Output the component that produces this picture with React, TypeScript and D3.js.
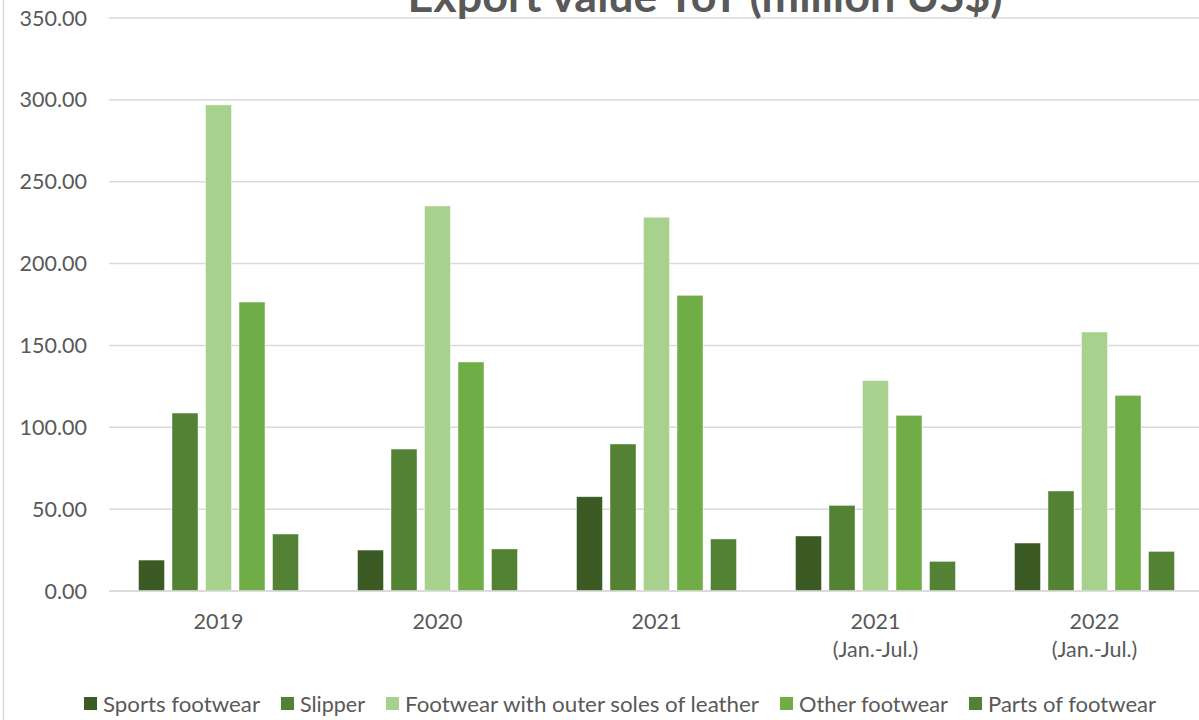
import React from "react";
import * as d3 from "d3";

const categories: string[][] = [
  ["2019"],
  ["2020"],
  ["2021"],
  ["2021", "(Jan.-Jul.)"],
  ["2022", "(Jan.-Jul.)"],
];
const seriesNames = [
  "Sports footwear",
  "Slipper",
  "Footwear with outer soles of leather",
  "Other footwear",
  "Parts of footwear",
];
const sportsFootwear = [18.9, 25.0, 57.6, 33.6, 29.3];
const slipper = [108.7, 86.7, 89.8, 52.3, 61.1];
const leatherSoles = [296.9, 235.2, 228.3, 128.5, 158.2];
const otherFootwear = [176.5, 139.9, 180.6, 107.3, 119.5];
const partsFootwear = [34.8, 25.7, 31.8, 18.1, 24.2];
const yTicks = [0, 50, 100, 150, 200, 250, 300, 350];
const title = "Export value YoY (million US$)";

const seriesValues = [sportsFootwear, slipper, leatherSoles, otherFootwear, partsFootwear];
const colors = ["#3B5A24", "#548235", "#A9D18E", "#70AD47", "#548235"];

const W = 1199;
const H = 720;
const FONT = "Lato, 'Open Sans', Arial, sans-serif";
const TEXT = "#595959";

// legend layout (x of marker, text target width)
const legendX = [84, 281, 386, 780, 969];
const legendW = [157, 65, 354, 149, 168];

export default function App() {
  const keys = categories.map((c) => c.join(" "));
  const x0 = d3.scaleBand<string>().domain(keys).range([109, 1204]).paddingInner(0).paddingOuter(0);
  const inner = d3
    .scaleBand<number>()
    .domain(d3.range(seriesNames.length))
    .range([0, 160])
    .paddingInner(0.224)
    .paddingOuter(0);
  const y = d3.scaleLinear().domain([0, 350]).range([591, 18]);
  const fmt = d3.format(".2f");
  const gx0 = (x0.bandwidth() - 160) / 2;

  return (
    <svg
      width={W}
      height={H}
      style={{ position: "absolute", left: 0, top: 0, background: "#fff" }}
      fontFamily={FONT}
    >
      <rect x={0} y={0} width={W} height={H} fill="#fff" />
      <line x1={3.5} x2={3.5} y1={0} y2={H} stroke="#d9d9d9" strokeWidth={1.5} />
      {/* gridlines */}
      {yTicks.map((t) => (
        <g key={t}>
          <line x1={109} x2={W} y1={y(t)} y2={y(t)} stroke="#d9d9d9" strokeWidth={1.5} />
          <text x={87} y={y(t)} dy="0.35em" textAnchor="end" fontSize={21.5} fill={TEXT}>
            {fmt(t)}
          </text>
        </g>
      ))}
      {/* title */}
      <text
        x={705}
        y={12}
        textAnchor="middle"
        fontSize={44}
        fontWeight={700}
        fill={TEXT}
        textLength={595}
        lengthAdjust="spacingAndGlyphs"
      >
        {title}
      </text>
      {/* bars */}
      {keys.map((k, ci) => (
        <g key={k} transform={`translate(${(x0(k) ?? 0) + gx0},0)`}>
          {seriesValues.map((vals, si) => (
            <rect
              key={si}
              x={inner(si)}
              y={y(vals[ci])}
              width={inner.bandwidth()}
              height={y(0) - y(vals[ci])}
              fill={colors[si]}
              stroke="rgba(255,255,255,0.55)"
              strokeWidth={0.8}
            />
          ))}
        </g>
      ))}
      <line x1={109} x2={W} y1={y(0)} y2={y(0)} stroke="#d9d9d9" strokeWidth={1.5} />
      {/* x labels */}
      {categories.map((lines, ci) => (
        <text
          key={ci}
          x={(x0(keys[ci]) ?? 0) + x0.bandwidth() / 2}
          y={629}
          textAnchor="middle"
          fontSize={21.5}
          fill={TEXT}
        >
          {lines.map((l, li) => (
            <tspan key={li} x={(x0(keys[ci]) ?? 0) + x0.bandwidth() / 2} dy={li === 0 ? 0 : 28}>
              {l}
            </tspan>
          ))}
        </text>
      ))}
      {/* legend */}
      {seriesNames.map((n, i) => (
        <g key={n}>
          <rect x={legendX[i]} y={697} width={13} height={13} fill={colors[i]} />
          <text
            x={legendX[i] + 19}
            y={712}
            fontSize={21.5}
            fill={TEXT}
            textLength={legendW[i]}
            lengthAdjust="spacingAndGlyphs"
          >
            {n}
          </text>
        </g>
      ))}
    </svg>
  );
}
